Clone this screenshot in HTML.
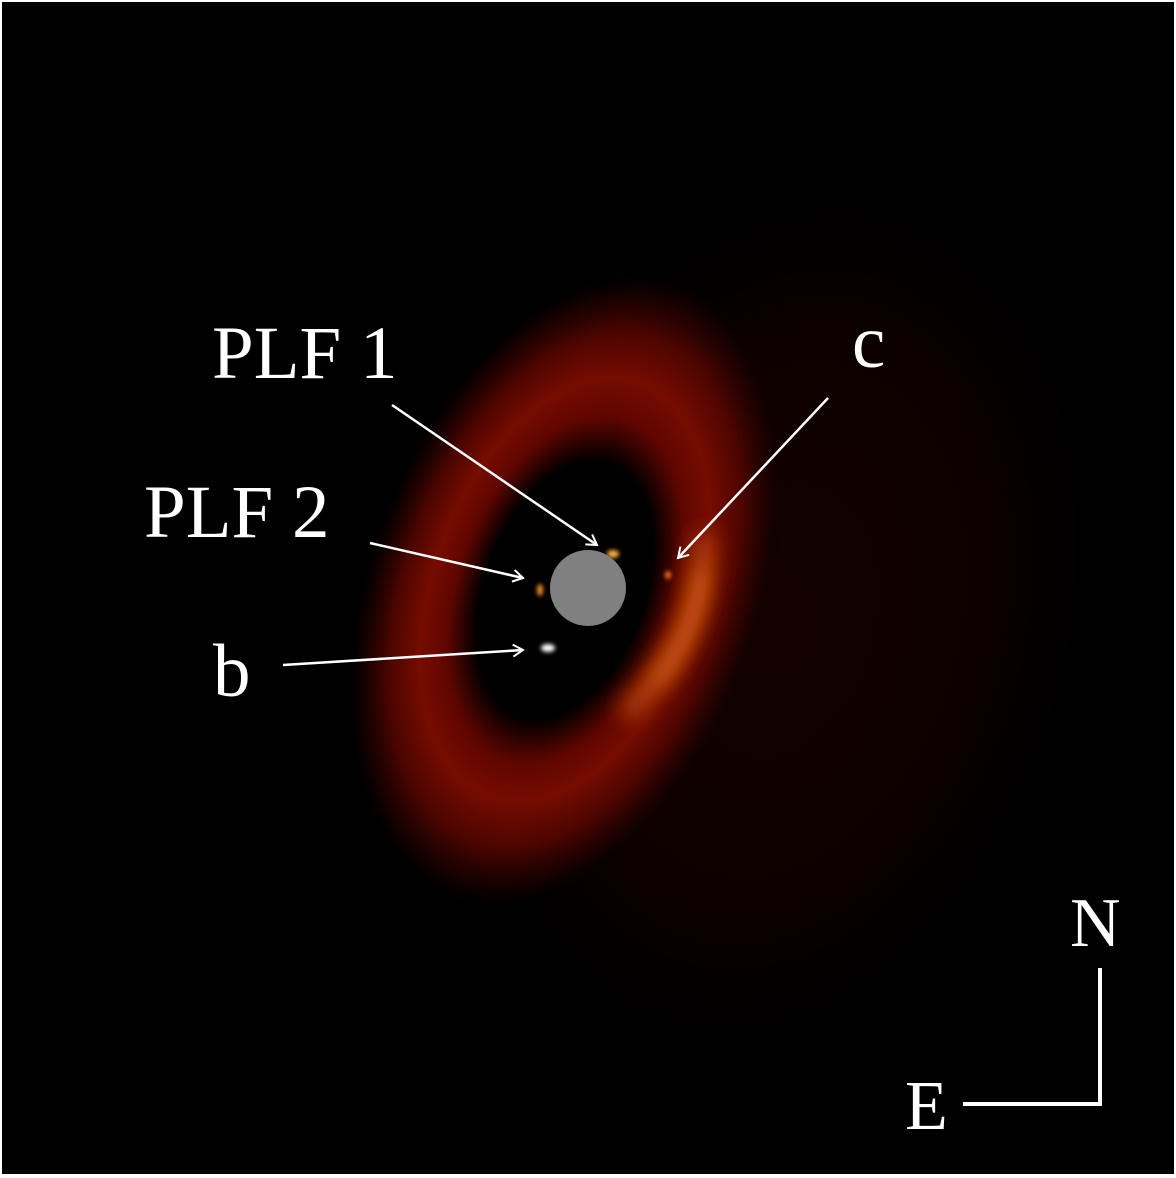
<!DOCTYPE html>
<html><head><meta charset="utf-8"><style>
html,body{margin:0;padding:0;background:#fff;}
svg{display:block;}
text{font-family:"Liberation Serif",serif;fill:#fff;}
</style></head><body>
<svg width="1176" height="1178" viewBox="0 0 1176 1178" xmlns="http://www.w3.org/2000/svg">
<defs>
<radialGradient id="halo" cx="0.5" cy="0.5" r="0.5">
<stop offset="0" stop-color="#140200" stop-opacity="1"/>
<stop offset="0.6" stop-color="#100100" stop-opacity="0.8"/>
<stop offset="1" stop-color="#000" stop-opacity="0"/>
</radialGradient>
<radialGradient id="disk" cx="0.5" cy="0.5" r="0.5">
<stop offset="0" stop-color="#000" stop-opacity="1"/>
<stop offset="0.4" stop-color="#000" stop-opacity="1"/>
<stop offset="0.54" stop-color="#600600" stop-opacity="1"/>
<stop offset="0.66" stop-color="#760c00" stop-opacity="1"/>
<stop offset="0.8" stop-color="#5a0600" stop-opacity="0.85"/>
<stop offset="0.91" stop-color="#300300" stop-opacity="0.5"/>
<stop offset="1" stop-color="#000" stop-opacity="0"/>
</radialGradient>
<filter id="b12" x="-100%" y="-100%" width="300%" height="300%"><feGaussianBlur stdDeviation="11"/></filter>
<filter id="b3" x="-100%" y="-100%" width="300%" height="300%"><feGaussianBlur stdDeviation="2"/></filter>
<marker id="ah" markerWidth="14" markerHeight="14" refX="12" refY="7" orient="auto" markerUnits="userSpaceOnUse">
<path d="M2,1 L12,7 L2,13" fill="none" stroke="#fff" stroke-width="2"/></marker>
</defs>
<rect x="0" y="0" width="1176" height="1178" fill="#fff"/>
<rect x="2" y="2" width="1172" height="1172" fill="#000"/>
<g>
<ellipse cx="780" cy="620" rx="330" ry="480" transform="rotate(15 780 620)" fill="url(#halo)"/>
</g>
<g>
<ellipse cx="565" cy="590" rx="200" ry="335" transform="rotate(20 565 590)" fill="url(#disk)"/>
<path d="M704,535 Q708,630 625,715" fill="none" stroke="#c04808" stroke-width="18" filter="url(#b12)"/>
<path d="M700,570 Q700,630 655,685" fill="none" stroke="#f07818" stroke-width="8" filter="url(#b12)"/>
</g>
<g>
<ellipse cx="548" cy="648" rx="7" ry="4" fill="#fff" filter="url(#b3)"/>
<ellipse cx="613" cy="554" rx="6" ry="4" fill="#ffb040" filter="url(#b3)"/>
<ellipse cx="540" cy="590" rx="3" ry="6" fill="#ff9030" filter="url(#b3)"/>
<ellipse cx="668" cy="575" rx="3" ry="4" fill="#ff7020" filter="url(#b3)"/>
</g>
<circle cx="588" cy="588" r="38" fill="#808080"/>
<g stroke="#fff" stroke-width="2.5" fill="none">
<line x1="392" y1="405" x2="597" y2="545" marker-end="url(#ah)"/>
<line x1="370" y1="543" x2="523" y2="578" marker-end="url(#ah)"/>
<line x1="283" y1="665" x2="523" y2="650" marker-end="url(#ah)"/>
<line x1="828" y1="398" x2="678" y2="558" marker-end="url(#ah)"/>
</g>
<text x="212" y="378" font-size="75">PLF 1</text>
<text x="144" y="537" font-size="75">PLF 2</text>
<text x="852" y="367" font-size="75">c</text>
<text x="213" y="696" font-size="75">b</text>
<g>
<text x="1070" y="946" font-size="70">N</text>
<text x="905" y="1129" font-size="70">E</text>
<path d="M1100,968 L1100,1104 L963,1104" fill="none" stroke="#fff" stroke-width="4"/>
</g>
</svg>
</body></html>
